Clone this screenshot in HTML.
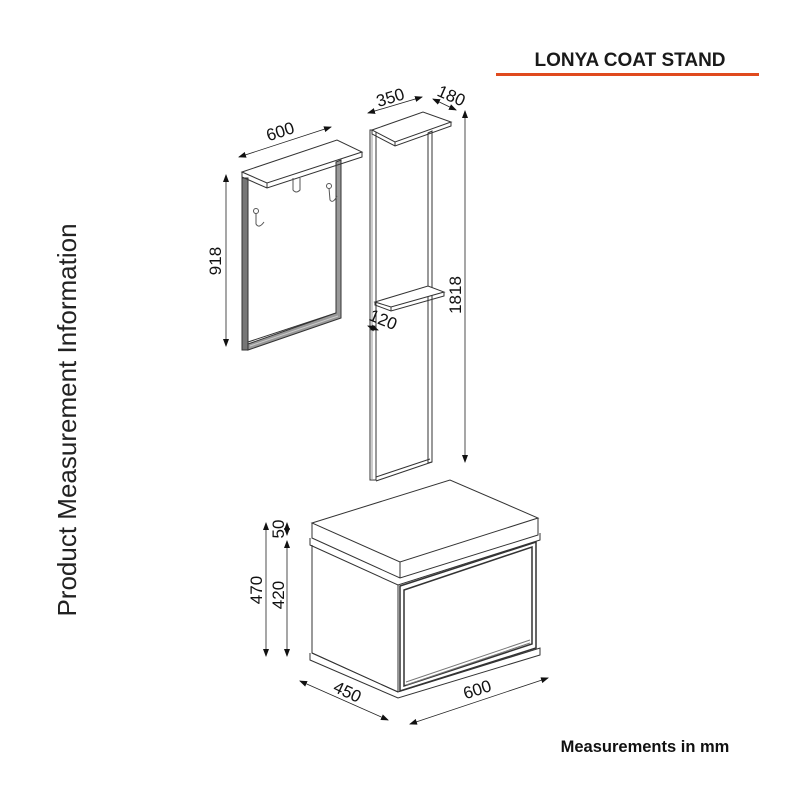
<!DOCTYPE html>
<html><head><meta charset="utf-8"><style>
html,body{margin:0;padding:0;background:#fff}
svg{display:block}
text{font-family:"Liberation Sans",Arial,sans-serif}
</style></head><body>
<svg width="800" height="800" viewBox="0 0 800 800" xmlns="http://www.w3.org/2000/svg">
<defs>
<marker id="a" markerWidth="8" markerHeight="6" refX="7" refY="3" orient="auto-start-reverse" markerUnits="userSpaceOnUse"><path d="M0,0 L8,3 L0,6 z" fill="#111"/></marker>
</defs>
<text x="630" y="66" font-size="19" font-weight="bold" text-anchor="middle" fill="#1a1a1a">LONYA COAT STAND</text>
<rect x="496" y="73" width="263" height="3" fill="#e04a1e"/>
<text x="645" y="752" font-size="16.5" font-weight="bold" text-anchor="middle" fill="#111">Measurements in mm</text>
<text transform="translate(76,420) rotate(-90)" font-size="26" text-anchor="middle" fill="#222">Product Measurement Information</text>

<g fill="none" stroke="#333" stroke-width="1">
<path d="M242,178 L248,178 L248,350 L242,350 Z" fill="#777"/>
<path d="M248,180 L248,342 L336,313 L336,162" fill="#fff"/>
<path d="M336,162 L341,160 L341,318 L248,350 L248,344 L336,313 Z" fill="#999"/>
<path d="M250,346 L338,316" stroke="#ccc"/>
<path d="M242,172 L337,140 L362,152 L267,183 Z" fill="#fff"/>
<path d="M242,172 L242,177 L267,188 L362,157 L362,152"/>
<path d="M267,183 L267,188"/>
<path d="M293,178 L293,190 Q296,194 300,190 L300,178" stroke="#555"/>
<path d="M329,188 L330,200 Q333,204 337,196" stroke="#555"/>
<circle cx="329" cy="186" r="2.5" stroke="#555"/>
<path d="M256,213 L256,224 Q259,229 264,222" stroke="#555"/>
<circle cx="256" cy="211" r="2.5" stroke="#555"/>

<path d="M370,130 L376,130 L376,480 L370,480 Z" fill="#fff"/>
<path d="M372,131 L372,480" stroke="#999"/>
<path d="M428,133 L432,131 L432,462 L428,463 Z" fill="#fff"/>
<path d="M376,477 L430,459 M376,481 L432,462"/>
<path d="M372,130 L423,112 L451,122 L395,142 Z" fill="#fff"/>
<path d="M372,130 L372,134 L395,146 L451,126 L451,122 M395,142 L395,146"/>
<path d="M375,302 L428,286 L444,292 L391,307 Z" fill="#fff"/>
<path d="M375,302 L375,305 L391,311 L444,296 L444,292 M391,307 L391,311"/>

<path d="M312,523 L450,480 L538,518 L400,562 Z" fill="#fff"/>
<path d="M312,523 L312,538 L400,578 L538,535 L538,518 M400,562 L400,578"/>
<path d="M310,538 L310,545 L398,585 L540,540 L540,533"/>
<path d="M312,545 L312,653 L398,692" fill="none"/>
<path d="M310,653 L310,660 L398,698 L540,655 L540,648 L398,692 L312,653"/>
<path d="M398,585 L398,692"/>
<path d="M400,586 L536,542 L536,648 L400,691 Z" stroke-width="1.5"/>
<path d="M404,590 L532,547 L532,644 L404,686 Z" stroke-width="1.5"/>
<path d="M406,685 L530,643 M406,682 L530,640" stroke="#777"/>
</g>

<g stroke="#222" stroke-width="0.8" fill="none">
<line x1="226" y1="175" x2="226" y2="346" marker-start="url(#a)" marker-end="url(#a)"/>
<line x1="239" y1="157" x2="331" y2="127" marker-start="url(#a)" marker-end="url(#a)"/>
<line x1="368" y1="113" x2="422" y2="97" marker-start="url(#a)" marker-end="url(#a)"/>
<line x1="433" y1="99" x2="456" y2="110" marker-start="url(#a)" marker-end="url(#a)"/>
<line x1="465" y1="111" x2="465" y2="462" marker-start="url(#a)" marker-end="url(#a)"/>
<line x1="368" y1="326" x2="378" y2="330" marker-start="url(#a)" marker-end="url(#a)"/>
<line x1="266" y1="523" x2="266" y2="656" marker-start="url(#a)" marker-end="url(#a)"/>
<line x1="287" y1="523" x2="287" y2="535" marker-start="url(#a)" marker-end="url(#a)"/>
<line x1="287" y1="541" x2="287" y2="656" marker-start="url(#a)" marker-end="url(#a)"/>
<line x1="300" y1="681" x2="388" y2="720" marker-start="url(#a)" marker-end="url(#a)"/>
<line x1="410" y1="724" x2="548" y2="678" marker-start="url(#a)" marker-end="url(#a)"/>
</g>
<g font-size="17" fill="#111">
<text transform="translate(282,137) rotate(-18)" text-anchor="middle">600</text>
<text transform="translate(392,103) rotate(-17)" text-anchor="middle">350</text>
<text transform="translate(449,101) rotate(24)" text-anchor="middle">180</text>
<text transform="translate(221,261) rotate(-90)" text-anchor="middle">918</text>
<text transform="translate(461,295) rotate(-90)" text-anchor="middle">1818</text>
<text transform="translate(381,325) rotate(22)" text-anchor="middle">120</text>
<text transform="translate(262,590) rotate(-90)" text-anchor="middle">470</text>
<text transform="translate(284,595) rotate(-90)" text-anchor="middle">420</text>
<text transform="translate(284,529) rotate(-90)" text-anchor="middle">50</text>
<text transform="translate(345,697) rotate(25)" text-anchor="middle">450</text>
<text transform="translate(479,695) rotate(-18)" text-anchor="middle">600</text>
</g>
</svg>
</body></html>
